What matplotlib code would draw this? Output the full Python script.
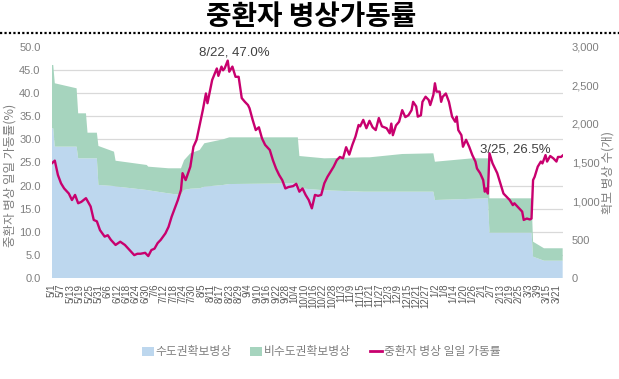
import datetime as dt

import matplotlib
matplotlib.use("Agg")
import matplotlib.pyplot as plt
from matplotlib import font_manager
from matplotlib.lines import Line2D
from matplotlib.patches import Patch
from matplotlib.ticker import MultipleLocator, FuncFormatter

# Daily ICU bed occupancy rate (%)
RATE_DATES = [
    "5/1", "5/3", "5/5", "5/7", "5/9", "5/12", "5/14", "5/16", "5/18", "5/20", "5/23", "5/26", "5/28", "5/30",
    "6/1", "6/4", "6/6", "6/8", "6/11", "6/14", "6/17", "6/20", "6/23", "6/25", "6/27", "6/30",
    "7/2", "7/4", "7/6", "7/8", "7/10", "7/13", "7/15", "7/17", "7/19", "7/21", "7/23", "7/24", "7/26", "7/29", "7/31",
    "8/2", "8/4", "8/6", "8/8", "8/9", "8/12", "8/14", "8/15", "8/16", "8/18", "8/19", "8/20", "8/22", "8/23", "8/25",
    "8/27", "8/29", "8/31",
    "9/2", "9/4", "9/5", "9/7", "9/9", "9/11", "9/13", "9/15", "9/18", "9/20", "9/22", "9/24", "9/26", "9/28", "9/30",
    "10/3", "10/5", "10/7", "10/9", "10/11", "10/13", "10/15", "10/17", "10/19", "10/21", "10/23", "10/25", "10/27",
    "10/29", "10/31",
    "11/2", "11/4", "11/6", "11/8", "11/10", "11/12", "11/14", "11/15", "11/17", "11/19", "11/21", "11/23", "11/25",
    "11/27", "11/29",
    "12/2", "12/4", "12/5", "12/6", "12/8", "12/10", "12/12", "12/14", "12/16", "12/18", "12/19", "12/21", "12/22",
    "12/24", "12/25", "12/27", "12/29", "12/30",
    "1/1", "1/2", "1/3", "1/5", "1/6", "1/7", "1/9", "1/11", "1/13", "1/15", "1/16", "1/17", "1/19", "1/20", "1/22",
    "1/24", "1/26", "1/28", "1/29", "1/31",
    "2/2", "2/3", "2/4", "2/5", "2/6", "2/8", "2/11", "2/13", "2/15", "2/17", "2/19", "2/21", "2/22", "2/25", "2/27",
    "2/28",
    "3/2", "3/4", "3/5", "3/6", "3/7", "3/9", "3/11", "3/12", "3/14", "3/15", "3/17", "3/19", "3/21", "3/22", "3/24",
    "3/25",
]
RATE_VALUES = [
    24.8, 25.4, 22.3, 20.5, 19.4, 18.3, 16.9, 18.0, 16.2, 16.5, 17.3, 15.5, 12.6, 12.3,
    10.4, 9.0, 9.3, 8.3, 7.2, 7.9, 7.2, 6.1, 5.0, 5.3, 5.3, 5.5,
    4.8, 6.1, 6.4, 7.6, 8.3, 9.7, 11.1, 13.3, 15.1, 16.9, 19.1, 22.7, 21.2, 24.1, 28.4,
    29.9, 33.1, 36.3, 39.9, 37.8, 42.8, 44.5, 45.3, 43.7, 45.7, 44.9, 45.3, 47.0, 44.6, 45.7,
    43.5, 43.5, 38.9,
    38.1, 37.4, 36.7, 34.2, 32.0, 32.6, 30.2, 28.8, 27.7, 25.5, 23.7, 22.3, 21.2, 19.4, 19.7,
    19.9, 20.4, 18.7, 19.4, 18.0, 16.9, 15.1, 18.0, 17.8, 18.0, 20.5, 21.9, 23.0,
    24.1, 25.5,
    26.2, 25.9, 28.3, 26.7, 28.8, 30.6, 33.1, 32.8, 34.2, 32.4, 34.0, 32.6, 32.0,
    34.6, 32.8,
    32.4, 31.3, 33.4, 30.9, 33.0, 33.8, 36.3, 34.8, 35.2, 36.3, 38.1, 37.1, 34.9,
    35.2, 38.1, 39.2, 38.5, 37.4,
    39.6, 42.1, 40.3, 40.3, 38.1, 39.2, 39.9, 38.1, 34.9, 33.8, 34.9, 32.0, 30.9, 28.4, 29.9,
    28.4, 26.6, 25.2, 23.7, 22.7,
    21.2, 18.7, 19.4, 18.3, 27.0, 24.8, 22.7, 20.5, 18.3, 17.6, 16.9, 15.8, 16.2, 15.1, 14.4,
    12.6,
    12.9, 12.7, 12.9, 21.2, 21.9, 24.1, 25.2, 24.8, 26.6, 25.2, 26.4, 25.9, 25.2, 26.2, 26.2,
    26.5,
]

# Secured ICU beds (count), capital area and non-capital area
BED_DATES = [
    "5/1", "5/2", "5/3", "5/17", "5/18", "5/23", "5/24", "5/30", "5/31", "6/10", "6/11", "7/1", "7/2", "7/15",
    "7/23", "7/25", "7/29", "8/4", "8/7", "8/19", "8/23", "10/6", "10/7", "10/23", "11/17", "11/21", "12/12",
    "1/1", "1/2", "1/26", "2/5", "2/6", "3/5", "3/6", "3/13", "3/25",
]
BEDS_CAPITAL = [
    1943, 1943, 1705, 1705, 1554, 1554, 1554, 1554, 1209, 1195, 1190, 1144, 1140, 1100,
    1079, 1144, 1160, 1166, 1187, 1209, 1221, 1230, 1166, 1140, 1122, 1122, 1122,
    1122, 1014, 1030, 1036, 591, 591, 280, 228, 228,
]
BEDS_NONCAPITAL = [
    820, 820, 821, 756, 583, 583, 332, 332, 505, 445, 333, 324, 306, 325,
    346, 386, 459, 496, 562, 591, 605, 596, 418, 414, 445, 445, 488,
    497, 496, 524, 518, 445, 445, 194, 161, 161,
]

TICK_LABELS = [
    "5/1", "5/7", "5/13", "5/19", "5/25", "5/31", "6/6", "6/12", "6/18", "6/24", "6/30", "7/6", "7/12", "7/18",
    "7/24", "7/30", "8/5", "8/11", "8/17", "8/23", "8/29", "9/4", "9/10", "9/16", "9/22", "9/28", "10/4", "10/10",
    "10/16", "10/22", "10/28", "11/3", "11/9", "11/15", "11/21", "11/27", "12/3", "12/9", "12/15", "12/21",
    "12/27", "1/2", "1/8", "1/14", "1/20", "1/26", "2/1", "2/7", "2/13", "2/19", "2/25", "3/3", "3/9", "3/15",
    "3/21",
]

PEAK_DATE, PEAK_VALUE = "8/22", 47.0
LAST_DATE, LAST_VALUE = "3/25", 26.5

COLOR_CAPITAL = "#BDD7EE"
COLOR_NONCAPITAL = "#A6D4BE"
COLOR_RATE = "#C8006E"
COLOR_TEXT = "#7F7F7F"
KO_FONT = ["Noto Sans CJK KR", "DejaVu Sans"]

# Narrow font for numbers if there is one, otherwise Liberation Sans
installed = {f.name for f in font_manager.fontManager.ttflist}
NUM_FONT = [n for n in ("Liberation Sans Narrow", "Liberation Sans") if n in installed][:1] + ["DejaVu Sans"]


def to_date(s):
    # The chart spans May 2022 to March 2023
    m, d = map(int, s.split("/"))
    return dt.date(2022 if m >= 5 else 2023, m, d)


rate_dates = [to_date(s) for s in RATE_DATES]
bed_dates = [to_date(s) for s in BED_DATES]

fig = plt.figure(figsize=(6.19, 3.79), dpi=100, facecolor="white")
ax = fig.add_axes([0.0835, 0.2657, 0.8255, 0.6111])
ax2 = ax.twinx()

# Beds (right axis) as stacked areas behind the rate line
ax2.stackplot(bed_dates, BEDS_CAPITAL, BEDS_NONCAPITAL, colors=[COLOR_CAPITAL, COLOR_NONCAPITAL], linewidth=0)
ax2.set_ylim(0, 3000)
ax2.yaxis.set_major_locator(MultipleLocator(500))
ax2.yaxis.set_minor_locator(MultipleLocator(300))
ax2.yaxis.set_major_formatter(FuncFormatter(lambda v, p: f"{int(v):,}"))
ax2.grid(which="minor", axis="y", color="#D9D9D9", linewidth=0.9)
ax2.set_axisbelow(True)
ax2.tick_params(which="both", length=0, pad=6.5, labelsize=8, labelcolor=COLOR_TEXT)

# Occupancy rate (left axis)
ax.plot(rate_dates, RATE_VALUES, color=COLOR_RATE, linewidth=1.7)
ax.set_zorder(ax2.get_zorder() + 1)
ax.patch.set_visible(False)
ax.set_ylim(0, 50)
ax.set_xlim(to_date(RATE_DATES[0]), to_date(RATE_DATES[-1]))
ax.yaxis.set_major_locator(MultipleLocator(5))
ax.yaxis.set_major_formatter(FuncFormatter(lambda v, p: f"{v:.1f}"))
ax.tick_params(axis="y", length=0, pad=8, labelsize=8, labelcolor=COLOR_TEXT)

ax.set_xticks([to_date(s) for s in TICK_LABELS])
ax.set_xticklabels(TICK_LABELS, rotation=90, fontsize=7, color="#595959")
ax.tick_params(axis="x", length=0, pad=4)

for a in (ax, ax2):
    for spine in a.spines.values():
        spine.set_visible(False)
for lbl in ax.get_yticklabels() + ax2.get_yticklabels() + ax.get_xticklabels():
    lbl.set_family(NUM_FONT)

# Callouts
ax.annotate(f"{PEAK_DATE}, {PEAK_VALUE:.1f}%", xy=(to_date(PEAK_DATE), PEAK_VALUE), xytext=(4.5, 5.8),
            textcoords="offset points", ha="center", va="center", fontsize=9.5, color="#404040", family=NUM_FONT)
ax.annotate(f"{LAST_DATE}, {LAST_VALUE:.1f}%", xy=(to_date(LAST_DATE), LAST_VALUE), xytext=(-34, 4.5),
            textcoords="offset points", ha="center", va="center", fontsize=9.5, color="#404040", family=NUM_FONT)

# Axis titles
fig.text(10 / 619, 1 - 175 / 379, "중환자 병상 일일 가동률(%)", rotation=90, ha="center", va="center",
         fontsize=9, color=COLOR_TEXT, family=KO_FONT)
fig.text(608 / 619, 1 - 173 / 379, "확보 병상 수(개)", rotation=90, ha="center", va="center",
         fontsize=9, color=COLOR_TEXT, family=KO_FONT)

# Title and dotted separator
fig.text(311 / 619, 1 - 17 / 379, "중환자 병상가동률", ha="center", va="center", fontsize=20,
         fontweight="bold", color="black", family=KO_FONT)
fig.add_artist(Line2D([0, 1], [1 - 33 / 379] * 2, transform=fig.transFigure, color="black",
                      linewidth=1.6, linestyle=(0, (1, 1))))

handles = [
    Patch(facecolor=COLOR_CAPITAL, edgecolor="none", label="수도권확보병상"),
    Patch(facecolor=COLOR_NONCAPITAL, edgecolor="none", label="비수도권확보병상"),
    Line2D([0], [0], color=COLOR_RATE, linewidth=2, label="중환자 병상 일일 가동률"),
]
leg = fig.legend(handles=handles, loc="center", bbox_to_anchor=(321 / 619, 1 - 352 / 379), ncol=3,
                 frameon=False, handlelength=1.0, handleheight=0.8, handletextpad=0.15,
                 columnspacing=1.6, prop={"family": KO_FONT, "size": 8.5})
for t in leg.get_texts():
    t.set_color(COLOR_TEXT)

fig.savefig("out.png", dpi=100, facecolor="white")
